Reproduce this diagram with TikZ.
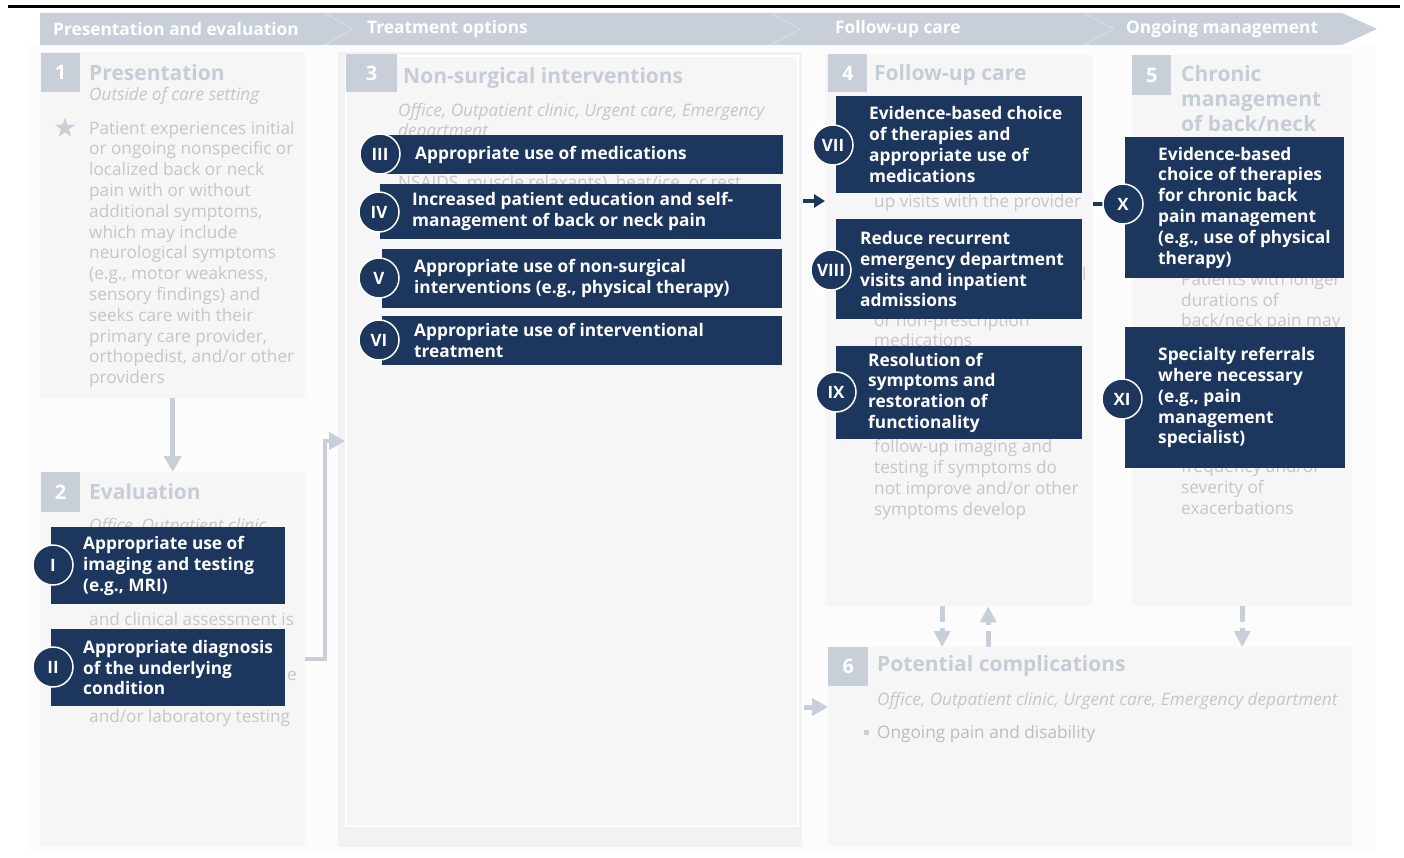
\documentclass[tikz,border=0pt]{standalone}
\usepackage{fontspec}
\setmainfont{Open Sans}
\usetikzlibrary{arrows.meta,shapes.geometric}
\definecolor{navy}{RGB}{28,54,93}
\definecolor{hdr}{RGB}{201,207,217}
\definecolor{chev}{RGB}{214,219,227}
\definecolor{ttl}{RGB}{198,205,215}
\definecolor{fade}{RGB}{198,198,198}
\definecolor{fadeb}{RGB}{188,188,188}
\definecolor{boxbg}{RGB}{246,246,246}
\definecolor{pagebg}{RGB}{252,252,252}
\definecolor{colbg}{RGB}{242,242,242}
\newcommand\fsz[2]{\fontsize{#1}{#2}\selectfont}
\begin{document}
\begin{tikzpicture}[x=1pt,y=-1pt,
  bgbox/.style={fill=boxbg, anchor=north west, inner sep=0, draw=none},
  numsq/.style={fill=hdr, anchor=north west, inner sep=0, text=white, font=\fsz{20}{24}\bfseries},
  ttlnode/.style={anchor=west, inner sep=0, text=ttl, font=\fsz{21}{25}\bfseries, align=left},
  subnode/.style={anchor=west, inner sep=0, text=fade, font=\fsz{17.2}{20}\itshape, align=left},
  body/.style={anchor=base west, inner sep=0, text=fade, font=\fsz{17.2}{20.8}, align=left},
  hdrtxt/.style={anchor=west, inner sep=0, text=white, font=\fsz{17.3}{20}\bfseries},
  navybox/.style={fill=navy, anchor=north west, inner sep=0},
  navytxt/.style={anchor=west, inner sep=0, text=white, font=\fsz{17.3}{20.8}\bfseries, align=left},
  roman/.style={circle, fill=navy, draw=white, line width=1.5pt, minimum size=40pt, inner sep=0, text=white, font=\fsz{17}{18}\bfseries},
  flow/.style={draw=hdr, line width=5pt, -{Triangle[width=17pt,length=16pt]}},
  dflow/.style={draw=hdr, line width=5pt, dash pattern=on 16pt off 6pt, -{Triangle[width=16pt,length=16pt]}},
  navyflow/.style={draw=navy, line width=4pt, -{Triangle[width=13pt,length=11pt]}}
]
\useasboundingbox (0,0) rectangle (1404,858);
\fill[white] (0,0) rectangle (1404,858);
% top rule
\draw[black, line width=3pt] (8,6.5) -- (1400,6.5);
% header bar
\fill[hdr] (40,13) -- (1342,13) -- (1377,29) -- (1342,45) -- (40,45) -- cycle;
\draw[chev, line width=1.2pt] (325,13) -- (352,29) -- (325,45);
\draw[chev, line width=1.2pt] (770,13) -- (800,29) -- (770,45);
\draw[chev, line width=1.2pt] (1084,13) -- (1114,29) -- (1084,45);
\node[hdrtxt] (h1) at (53,29) {Presentation and evaluation};
\node[hdrtxt] (h2) at (367,29) {Treatment options};
\node[hdrtxt] (h3) at (835,29) {Follow-up care};
\node[hdrtxt] (h4) at (1126,29) {Ongoing management};
% page background
\fill[pagebg] (30,45) rectangle (1376,850);
% column boxes
\node[bgbox, minimum width=265pt, minimum height=346pt] (box1) at (40,52) {};
\node[bgbox, minimum width=265pt, minimum height=374pt] (box2) at (40,472) {};
\node[bgbox, fill=colbg, minimum width=464pt, minimum height=795pt] (col3) at (338,52) {};
\node[bgbox, draw=white, line width=2pt, minimum width=452pt, minimum height=770pt] (col3in) at (345,55) {};
\node[bgbox, minimum width=268pt, minimum height=551pt] (box4) at (825,55) {};
\node[bgbox, minimum width=220pt, minimum height=551pt] (box5) at (1132,55) {};
\node[bgbox, minimum width=524pt, minimum height=199pt] (box6) at (828,647) {};
% number squares
\node[numsq, minimum width=39pt, minimum height=39pt] (sq1) at (41,53) {1};
\node[numsq, minimum width=39pt, minimum height=40pt] (sq2) at (41,472) {2};
\node[numsq, minimum width=51pt, minimum height=38pt] (sq3) at (346,54) {3};
\node[numsq, minimum width=39pt, minimum height=38pt] (sq4) at (828,54) {4};
\node[numsq, minimum width=39pt, minimum height=40pt] (sq5) at (1132,55) {5};
\node[numsq, minimum width=40pt, minimum height=39pt] (sq6) at (828,647) {6};
% titles
\node[ttlnode] (t1) at (89,73) {Presentation};
\node[ttlnode] (t2) at (89,492) {Evaluation};
\node[ttlnode] (t3) at (403,78) {Non-surgical interventions};
\node[ttlnode] (t4) at (874,75) {Follow-up care};
\node[ttlnode, anchor=north west, font=\fsz{21}{25}\bfseries] (t5) at (1181,65) {Chronic\\management\\of back/neck};
\node[ttlnode] (t6) at (877,666) {Potential complications};
% subtitles
\node[subnode] (s1) at (89,96) {Outside of care setting};
\node[subnode, anchor=base west] (s3) at (398,137) {Office, Outpatient clinic, Urgent care, Emergency\\department};
\node[subnode] (s6) at (877,701) {Office, Outpatient clinic, Urgent care, Emergency department};
\node[subnode] (s2) at (89,527) {Office, Outpatient clinic,};
% box 1 body
\node[star, star points=5, star point ratio=2.5, fill=hdr, inner sep=0, minimum size=21pt] (st) at (65,128) {};
\node[body] (b1) at (89,383.6) {Patient experiences initial\\or ongoing nonspecific or\\localized back or neck\\pain with or without\\additional symptoms,\\which may include\\neurological symptoms\\(e.g., motor weakness,\\sensory findings) and\\seeks care with their\\primary care provider,\\orthopedist, and/or other\\providers};
% box 2 faded fragments
\node[body] (b2a) at (89,625) {and clinical assessment is};
\node[body] (b2b) at (287,680) {e};
\node[body] (b2c) at (89,722) {and/or laboratory testing};
% box 3 faded fragment
\node[body] (b3a) at (398,189) {NSAIDS, muscle relaxants), heat/ice, or rest};
% box 4 faded fragments
\node[body] (b4a) at (874,208) {up visits with the provider};
\node[body] (b4b) at (1082,280) {l};
\node[body, font=\fsz{17.2}{20}] (b4c) at (874,346) {or non-prescription\\medications};
\node[body] (b4d) at (874,515) {follow-up imaging and\\testing if symptoms do\\not improve and/or other\\symptoms develop};
% box 5 faded fragments
\node[body, font=\fsz{17.2}{20}] (b5a) at (1181,326) {Patients with longer\\durations of\\back/neck pain may};
\node[body] (b5b) at (1181,514) {frequency and/or\\severity of\\exacerbations};
% box 6 bullet
\node[fill=hdr, inner sep=0, minimum size=5pt] (bul6) at (866,732) {};
\node[body, text=fadeb] (b6) at (877,738) {Ongoing pain and disability};
% grey connectors
\draw[flow] (box1.south) -- (box2.north);
\draw[flow, line width=4pt] (box2.east) -| ([xshift=-20pt]col3in.west) -- (col3in.west);
\coordinate (a6) at (804,707);
\draw[flow] (a6) -- (box6.west |- a6);
\draw[dflow] ([xshift=-17pt]box4.south) -- ([xshift=-17pt]box4.south |- box6.north);
\draw[dflow] ([xshift=29pt]box4.south |- box6.north) -- ([xshift=29pt]box4.south);
\draw[dflow] (box5.south) -- (box5.south |- box6.north);
% navy boxes
\node[navybox, minimum width=234pt, minimum height=77pt] (nb1) at (51,527) {};
\node[navytxt] (nt1) at ([xshift=32pt]nb1.west) {Appropriate use of\\imaging and testing\\(e.g., MRI)};
\node[navybox, minimum width=234pt, minimum height=77pt] (nb2) at (51,629) {};
\node[navytxt] (nt2) at ([xshift=32pt]nb2.west) {Appropriate diagnosis\\of the underlying\\condition};
\node[navybox, minimum width=400pt, minimum height=39pt] (nb3) at (383,135) {};
\node[navytxt] (nt3) at ([xshift=32pt]nb3.west) {Appropriate use of medications};
\node[navybox, minimum width=401pt, minimum height=55pt] (nb4) at (380,184) {};
\node[navytxt] (nt4) at ([xshift=32pt]nb4.west) {Increased patient education and self-\\management of back or neck pain};
\node[navybox, minimum width=400pt, minimum height=59pt] (nb5) at (382,249) {};
\node[navytxt] (nt5) at ([xshift=32pt]nb5.west) {Appropriate use of non-surgical\\interventions (e.g., physical therapy)};
\node[navybox, minimum width=400pt, minimum height=49pt] (nb6) at (382,316) {};
\node[navytxt] (nt6) at ([xshift=32pt]nb6.west) {Appropriate use of interventional\\treatment};
\node[navybox, minimum width=246pt, minimum height=97pt] (nb7) at (836,96) {};
\node[navytxt] (nt7) at ([xshift=33pt]nb7.west) {Evidence-based choice\\of therapies and\\appropriate use of\\medications};
\node[navybox, minimum width=246pt, minimum height=100pt] (nb8) at (836,219) {};
\node[navytxt] (nt8) at ([xshift=24pt]nb8.west) {Reduce recurrent\\emergency department\\visits and inpatient\\admissions};
\node[navybox, minimum width=246pt, minimum height=93pt] (nb9) at (836,346) {};
\node[navytxt] (nt9) at ([xshift=32pt]nb9.west) {Resolution of\\symptoms and\\restoration of\\functionality};
\node[navybox, minimum width=219pt, minimum height=141pt] (nb10) at (1125,137) {};
\node[navytxt] (nt10) at ([xshift=33pt]nb10.west) {Evidence-based\\choice of therapies\\for chronic back\\pain management\\(e.g., use of physical\\therapy)};
\node[navybox, minimum width=220pt, minimum height=141pt] (nb11) at (1125,327) {};
\node[navytxt] (nt11) at ([xshift=33pt]nb11.west) {Specialty referrals\\where necessary\\(e.g., pain\\management\\specialist)};
% navy connectors
\coordinate (a34) at (803,201);
\draw[navyflow] (a34) -- (box4.west |- a34);
\coordinate (cx) at (1123,204);
\draw[navy, line width=4pt] (box4.east |- cx) -- (cx);
% roman circles
\node[roman] (r1) at (53,565) {I};
\node[roman] (r2) at (53,667) {II};
\node[roman] (r3) at (380,154) {III};
\node[roman] (r4) at (379,212) {IV};
\node[roman] (r5) at (379,278) {V};
\node[roman] (r6) at (379,340) {VI};
\node[roman] (r7) at (833,145) {VII};
\node[roman] (r8) at (831,270) {VIII};
\node[roman] (r9) at (836,392) {IX};
\node[roman] (r10) at (cx) {X};
\node[roman] (r11) at (1122,399) {XI};
\end{tikzpicture}
\end{document}
